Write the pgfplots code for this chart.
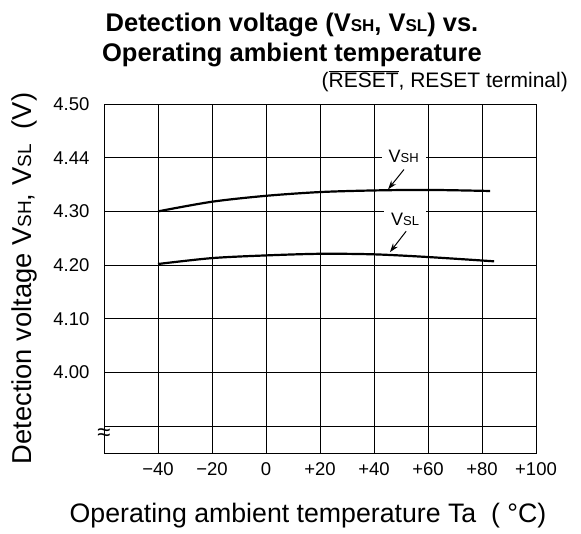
\documentclass[border=0pt]{standalone}
\usepackage{pgfplots}
\pgfplotsset{compat=1.18}
\usepackage{fontspec}
\setmainfont{Liberation Sans}
\usetikzlibrary{arrows.meta}
\newcommand\ovl[1]{\setbox0\hbox{#1}\rlap{\rule[\dimexpr\ht0+1.8pt\relax]{\wd0}{0.9pt}}\box0}
\begin{document}
\begin{tikzpicture}[x=1pt,y=1pt]
\path[use as bounding box] (0,0) rectangle (581,533);
\begin{axis}[
  at={(104pt,80pt)}, anchor=south west,
  scale only axis, width=432pt, height=349pt,
  xmin=-60, xmax=100, ymin=3.85, ymax=4.5,
  xtick={-40,-20,0,20,40,60,80,100},
  xticklabels={−40,−20,0,+20,+40,+60,+80,+100},
  ytick={3.9,4.0,4.1,4.2,4.3,4.4,4.5},
  yticklabels={,4.00,4.10,4.20,4.30,4.44,4.50},
  major tick length=0pt,
  grid=major,
  major grid style={black, line width=0.9pt},
  axis line style={black, line width=0.9pt},
  tick label style={font=\fontsize{18.5}{20}\selectfont},
  xticklabel style={yshift=-6pt},
  yticklabel style={xshift=-11pt},
  clip=false,
]
\addplot[black, line width=2.2pt, smooth] coordinates {
 (-40,4.300) (-20,4.318) (0,4.329) (20,4.336) (40,4.339) (60,4.340) (83,4.338)};
\addplot[black, line width=2.2pt, smooth] coordinates {
 (-40,4.202) (-20,4.213) (0,4.218) (20,4.221) (40,4.220) (60,4.215) (84.5,4.207)};
\node[fill=white, inner xsep=7pt, inner ysep=2pt, anchor=center] at (axis cs:51,4.403)
  {\fontsize{18}{20}\selectfont V{\fontsize{13}{14}\selectfont SH}};
\node[fill=white, inner xsep=7pt, inner ysep=4pt, anchor=north] at (axis cs:51.5,4.3037)
  {\fontsize{18}{20}\selectfont V{\fontsize{13}{14}\selectfont SL}};
\draw[-{Stealth[length=9pt,width=6pt]}, line width=1pt] (axis cs:51.1,4.378) -- (axis cs:45.2,4.341);
\draw[-{Stealth[length=9pt,width=6pt]}, line width=1pt] (axis cs:51.9,4.263) -- (axis cs:45.9,4.224);
\node[anchor=center, inner sep=0pt] at (axis cs:-60,3.884) {\fontsize{24}{26}\selectfont ≈};
\end{axis}
\node[anchor=base] at (292,501) {\fontsize{25.5}{30}\selectfont\bfseries Detection voltage (V{\fontsize{17}{20}\selectfont SH}, V{\fontsize{17}{20}\selectfont SL}) vs.};
\node[anchor=base] at (292,471) {\fontsize{25.5}{30}\selectfont\bfseries Operating ambient temperature};
\node[anchor=base east, inner sep=0pt] at (568,445) {\fontsize{21}{24}\selectfont (\ovl{RESET}, RESET terminal)};
\node[anchor=base, inner sep=0pt] at (308,11) {\fontsize{26.7}{30}\selectfont Operating ambient temperature Ta~~( °C)};
\node[rotate=90, anchor=center, inner sep=0pt] at (24,254.5) {\fontsize{27.3}{30}\selectfont Detection voltage V{\fontsize{19}{20}\selectfont SH}, V{\fontsize{19}{20}\selectfont SL}~~(V)};
\end{tikzpicture}
\end{document}
